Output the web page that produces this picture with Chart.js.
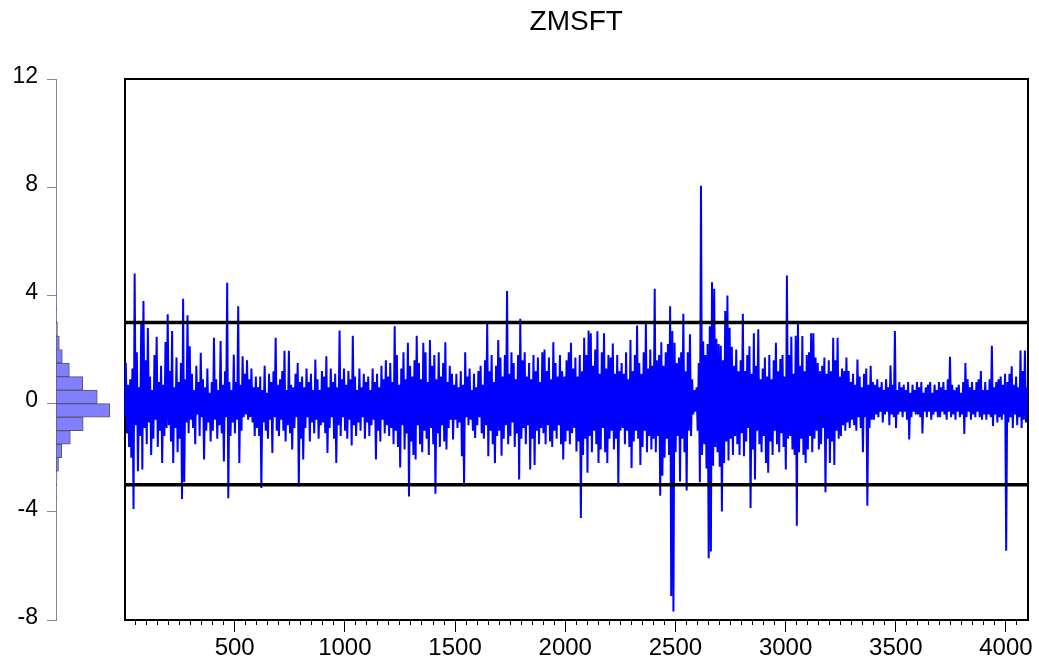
<!DOCTYPE html>
<html><head><meta charset="utf-8">
<script src="https://cdn.jsdelivr.net/npm/chart.js@4.4.1/dist/chart.umd.min.js"></script>
<style>
html,body{margin:0;padding:0;background:#fff;width:1039px;height:664px;overflow:hidden}
#hist{position:absolute;left:0;top:0}
#main{position:absolute;left:114px;top:0}
</style></head><body>
<canvas id="hist" width="124" height="664"></canvas>
<canvas id="main" width="925" height="664"></canvas>
<script>
const chartTitle = 'ZMSFT';
// standardized residual, read every 5 observations (obs 1, 6, 11, ..., 4096)
const zmsft = [
 -0.5,1.5,-1.1,0.7,-1.6,0.9,-2.0,1.3,-3.9,4.81,-0.8,1.9,-2.5,0.6,-1.2,3.05,-2.44,3.79,-0.9,1.6,
 -1.5,2.79,-0.7,1.0,-1.9,0.5,-1.3,1.8,-0.6,2.47,-1.6,0.8,-1.0,1.4,-2.2,0.7,-1.2,2.28,-0.9,3.3,
 -0.8,1.2,-1.4,2.68,-2.2,0.6,-0.9,1.7,-1.8,0.8,-1.3,1.5,-3.53,3.88,-2.9,0.9,-0.7,3.27,-1.1,2.12,
 -0.6,1.1,-0.9,0.5,-1.5,1.4,-0.4,0.8,-1.2,1.88,-0.5,0.9,-2.07,0.6,-1.0,1.3,-0.7,0.4,-1.4,0.8,
 -1.0,2.43,-0.6,0.9,-1.3,0.5,-0.8,2.31,-1.1,0.7,-2.14,1.2,-0.5,4.47,-3.5,0.8,-1.2,0.5,-0.7,1.81,
 -1.1,0.8,-0.6,3.6,-2.2,0.7,-1.0,1.75,-0.5,1.1,-0.4,1.6,-0.6,0.9,-0.5,1.3,-0.7,0.6,-1.2,1.0,
 -0.9,0.6,-1.2,1.0,-3.12,0.5,-0.7,1.4,-1.0,0.4,-1.3,1.1,-0.6,0.8,-1.83,1.2,-0.5,2.43,-1.0,0.7,
 -1.2,0.9,-0.6,1.2,-1.0,1.95,-1.4,0.5,-0.8,1.95,-1.1,0.7,-1.7,0.6,-0.9,1.1,-0.5,1.5,-3.06,0.8,
 -1.3,1.0,-2.07,0.6,-0.9,1.3,-0.5,0.8,-1.4,1.1,-0.7,0.5,-1.1,1.63,-0.6,0.9,-1.3,0.5,-0.8,1.2,
 -0.7,1.0,-1.1,1.75,-1.83,0.6,-0.9,1.3,-0.5,0.8,-1.3,1.1,-2.2,0.6,-0.8,2.7,-1.2,0.9,-0.5,1.3,
 -1.0,0.7,-1.3,1.2,-0.6,0.9,-1.55,2.51,-0.8,1.0,-1.2,0.5,-0.7,1.3,-1.0,0.6,-0.5,1.1,-1.3,0.8,
 -0.7,1.0,-1.2,0.5,-0.8,1.3,-0.6,0.8,-2.07,1.1,-1.0,0.6,-1.4,1.4,-0.6,0.9,-1.1,1.6,-0.8,1.0,
 -1.2,1.5,-0.9,0.8,-1.5,2.86,-1.0,1.8,-1.6,0.7,-2.36,1.3,-0.8,1.9,-1.7,0.9,-1.1,2.25,-3.43,1.4,
 -1.4,1.0,-1.9,1.6,-2.07,2.51,-0.8,1.5,-1.5,0.9,-1.8,2.25,-1.0,1.9,-1.3,0.8,-1.9,2.35,-0.9,1.4,
 -1.5,1.8,-3.33,0.9,-1.1,1.9,-1.6,1.0,-0.8,1.5,-1.4,2.27,-1.7,0.8,-0.9,1.4,-0.6,1.1,-1.33,0.7,
 -0.6,1.1,-0.9,0.6,-0.7,1.2,-1.95,0.7,-3.04,1.9,-0.5,1.0,-0.8,1.3,-0.6,0.5,-1.0,1.1,-1.27,0.6,
 -0.8,1.2,-0.5,1.4,-1.1,0.7,-1.3,1.6,-0.8,2.99,-1.95,1.2,-1.0,1.8,-1.5,0.8,-2.2,1.4,-1.2,2.35,
 -1.0,1.7,-1.93,1.0,-1.3,1.8,-0.8,4.16,-1.5,1.1,-1.2,1.9,-0.7,1.5,-1.6,0.9,-1.1,1.8,-2.81,3.14,
 -1.3,1.6,-0.9,1.9,-1.5,1.0,-0.8,1.5,-2.44,0.9,-1.3,1.8,-2.27,1.2,-1.0,1.7,-1.5,0.8,-0.9,1.9,
 -1.1,2.0,-1.5,1.2,-0.8,1.7,-1.4,0.9,-1.6,2.27,-1.0,1.5,-1.3,1.0,-0.8,1.8,-1.5,1.2,-2.07,1.0,
 -1.4,1.6,-1.0,1.9,-1.5,2.25,-1.1,1.3,-0.9,1.7,-1.77,1.0,-1.4,1.8,-4.23,1.2,-1.9,2.43,-1.3,1.8,
 -2.56,2.7,-1.2,2.6,-1.8,1.4,-1.0,2.0,-1.5,2.67,-2.2,1.1,-1.7,1.9,-0.9,2.6,-1.8,1.3,-2.2,1.8,
 -1.3,1.7,-1.0,2.22,-1.7,1.1,-1.3,1.8,-3.06,1.2,-1.0,1.5,-0.9,1.1,-1.5,1.9,-1.0,0.9,-1.6,2.35,
 -2.38,1.2,-1.4,1.8,-1.0,2.89,-1.3,1.5,-2.27,1.1,-1.6,1.9,-1.0,2.99,-1.8,1.3,-1.2,2.0,-1.7,1.4,
 -1.3,4.25,-1.8,1.6,-1.2,1.8,-3.41,2.27,-2.67,1.4,-2.0,1.9,-1.3,2.2,-1.9,3.6,-7.11,2.68,-7.69,2.25,
 -1.8,1.5,-1.2,1.7,-2.88,1.9,-1.3,3.32,-1.8,1.2,-3.21,1.9,-1.0,2.56,-1.2,0.9,-0.4,0.5,-0.3,0.6,
 -1.0,1.5,-2.91,8.05,-1.9,2.3,-1.5,1.8,-2.4,2.2,-5.72,2.86,-5.47,4.49,-2.3,4.25,-1.6,2.4,-1.8,2.2,
 -2.33,2.14,-3.99,1.6,-2.2,3.42,-1.4,4.0,-2.1,2.8,-1.3,2.1,-1.9,1.4,-1.2,2.0,-1.5,1.2,-1.9,1.6,
 -1.1,3.32,-1.95,1.2,-1.4,1.8,-0.9,2.12,-3.86,1.1,-1.7,2.6,-2.81,1.4,-1.0,2.75,-1.5,0.9,-1.8,1.3,
 -1.2,1.7,-2.2,1.0,-2.56,1.8,-1.4,0.9,-1.9,1.6,-1.0,2.25,-1.5,1.2,-1.8,1.65,-1.1,1.8,-1.6,1.0,
 -2.44,4.74,-1.3,1.8,-1.2,2.47,-1.7,1.1,-1.9,2.51,-4.52,3.05,-1.8,1.4,-1.3,2.5,-1.9,1.2,-2.2,1.8,
 -1.7,1.9,-1.2,2.6,-1.8,2.6,-1.3,1.7,-1.0,1.5,-1.7,1.2,-1.5,1.4,-0.9,1.7,-3.28,1.1,-1.3,1.6,
 -2.2,1.2,-1.4,2.43,-2.27,1.6,-1.0,2.43,-1.3,1.0,-1.2,1.3,-0.8,1.2,-1.0,1.7,-0.7,1.2,-0.9,0.8,
 -0.6,1.1,-0.8,0.7,-1.0,1.63,-0.5,1.0,-0.9,0.6,-1.8,1.1,-0.5,1.3,-3.78,0.7,-0.9,1.4,-0.6,0.8,
 -0.6,0.7,-0.4,0.9,-0.5,0.6,-0.3,0.8,-0.7,0.5,-0.4,0.9,-0.3,0.6,-0.8,1.41,-0.4,0.7,-0.5,2.68,
 -0.9,0.5,-0.4,0.8,-0.3,0.6,-0.5,0.7,-0.3,0.5,-0.6,0.8,-1.33,0.4,-0.5,0.7,-0.3,0.5,-0.4,0.8,
 -0.4,0.6,-0.5,0.8,-1.1,0.4,-0.3,0.6,-0.5,0.7,-0.3,0.8,-0.6,0.4,-0.4,0.7,-0.3,0.5,-0.5,0.8,
 -0.5,0.6,-0.3,0.8,-0.4,0.5,-0.6,0.9,-0.3,1.73,-0.5,0.7,-0.4,0.5,-0.6,0.6,-0.3,0.7,-0.5,0.4,
 -0.4,0.8,-1.12,1.5,-0.5,0.9,-0.3,0.6,-0.6,0.8,-0.4,0.5,-0.5,0.8,-0.3,0.9,-0.5,1.2,-0.6,0.5,
 -0.4,0.8,-0.6,0.5,-0.4,0.9,-0.5,2.14,-0.83,0.6,-0.4,0.8,-0.7,0.9,-0.5,1.0,-0.6,0.7,-0.4,1.1,
 -5.44,0.8,-0.7,1.1,-0.5,1.38,-0.9,0.7,-0.4,1.0,-0.8,0.6,-0.5,1.96,-0.9,1.2,-0.6,1.96,-0.7,0.6
];
const observations = zmsft.map((_, i) => 1 + 5 * i);
const upperBand = 3;
const lowerBand = -3;
const obsMin = 0;
const obsMax = 4100;
const xTickValues = [500, 1000, 1500, 2000, 2500, 3000, 3500, 4000];
const xMinorTickValues = Array.from({ length: 81 }, (_, k) => 50 * (k + 1));
const yTickValues = [-8, -4, 0, 4, 8, 12];
const histBinCenters = [-7.75, -7.25, -5.75, -5.25, -4.25, -3.75, -3.25, -2.75, -2.25, -1.75, -1.25, -0.75, -0.25, 0.25, 0.75, 1.25, 1.75, 2.25, 2.75, 3.25, 3.75, 4.25, 4.75, 8.25];
const histCounts     = [1, 1, 1, 1, 2, 4, 9, 20, 52, 118, 295, 560, 1110, 850, 550, 275, 130, 68, 30, 12, 7, 5, 2, 1];

const FONT = 'Liberation Sans, Arial, Helvetica, sans-serif';
Chart.defaults.font.family = FONT;
Chart.defaults.color = '#000';
Chart.defaults.animation = false;

new Chart(document.getElementById('hist'), {
  type: 'bar',
  data: {
    datasets: [{
      data: histBinCenters.map((c, i) => ({ x: histCounts[i], y: c })),
      backgroundColor: '#8080ff',
      borderColor: '#55556a',
      borderWidth: 1,
      borderSkipped: false,
      barPercentage: 1,
      categoryPercentage: 1
    }]
  },
  options: {
    indexAxis: 'y',
    responsive: false,
    animation: false,
    events: [],
    layout: { padding: { left: 14, right: 0, top: 79, bottom: 44 } },
    plugins: { legend: { display: false }, tooltip: { enabled: false } },
    scales: {
      x: { type: 'linear', display: false, min: 0, max: 1400 },
      y: {
        type: 'linear', position: 'left', min: -8, max: 12, offset: false,
        afterBuildTicks: s => { s.ticks = yTickValues.map(v => ({ value: v })); },
        ticks: { font: { size: 23 }, color: '#000', padding: 9, labelOffset: -2.5, callback: v => String(v) },
        grid: { offset: false, drawOnChartArea: false, drawTicks: true, tickLength: 9, color: '#8a8a8a', lineWidth: 1 },
        border: { display: true, color: '#8a8a8a', width: 1 },
        afterFit: s => { s.width = 42; }
      }
    }
  }
});

new Chart(document.getElementById('main'), {
  type: 'line',
  data: {
    datasets: [
      { label: '+3', data: [{ x: obsMin, y: upperBand }, { x: obsMax, y: upperBand }], borderColor: '#000', borderWidth: 3.5, pointRadius: 0, xAxisID: 'x', yAxisID: 'y' },
      { label: '-3', data: [{ x: obsMin, y: lowerBand }, { x: obsMax, y: lowerBand }], borderColor: '#000', borderWidth: 3.5, pointRadius: 0, xAxisID: 'x', yAxisID: 'y' },
      { label: chartTitle, data: observations.map((o, i) => ({ x: o, y: zmsft[i] })), borderColor: '#0000ff', borderWidth: 2, pointRadius: 0, tension: 0, xAxisID: 'x', yAxisID: 'y' }
    ]
  },
  options: {
    responsive: false,
    animation: false,
    events: [],
    layout: { padding: { left: 10.5, right: 11, top: 0, bottom: 0 } },
    plugins: {
      legend: { display: false },
      tooltip: { enabled: false },
      title: { display: true, text: chartTitle, color: '#000', font: { size: 28, weight: 'normal', family: FONT }, padding: { top: 5, bottom: 40.4 } }
    },
    scales: {
      x: {
        type: 'linear', axis: 'x', position: 'bottom', weight: 1, min: obsMin, max: obsMax,
        afterBuildTicks: s => { s.ticks = xTickValues.map(v => ({ value: v })); },
        ticks: { autoSkip: false, maxRotation: 0, font: { size: 24 }, color: '#000', padding: 2, callback: v => String(v) },
        grid: { drawOnChartArea: false, drawTicks: true, tickLength: 12, color: '#000', lineWidth: 1 },
        border: { display: true, color: '#000', width: 2 },
        afterFit: s => { s.height = 44; }
      },
      xMinor: {
        type: 'linear', axis: 'x', position: 'bottom', weight: 0, min: obsMin, max: obsMax,
        afterBuildTicks: s => { s.ticks = xMinorTickValues.map(v => ({ value: v })); },
        ticks: { display: false, autoSkip: false },
        grid: { drawOnChartArea: false, drawTicks: true, tickLength: 5, color: '#000', lineWidth: 1 },
        border: { display: false },
        afterFit: s => { s.height = 0; }
      },
      xTop: {
        type: 'linear', axis: 'x', position: 'top', min: obsMin, max: obsMax,
        ticks: { display: false },
        grid: { drawOnChartArea: false, drawTicks: false },
        border: { display: true, color: '#000', width: 2 },
        afterFit: s => { s.height = 0; }
      },
      y: {
        type: 'linear', axis: 'y', position: 'left', min: -8, max: 12,
        ticks: { display: false },
        grid: { drawOnChartArea: false, drawTicks: false },
        border: { display: true, color: '#000', width: 2 },
        afterFit: s => { s.width = 0; }
      },
      yRight: {
        type: 'linear', axis: 'y', position: 'right', min: -8, max: 12,
        ticks: { display: false },
        grid: { drawOnChartArea: false, drawTicks: false },
        border: { display: true, color: '#000', width: 2 },
        afterFit: s => { s.width = 0; }
      }
    }
  }
});
</script>
</body></html>
